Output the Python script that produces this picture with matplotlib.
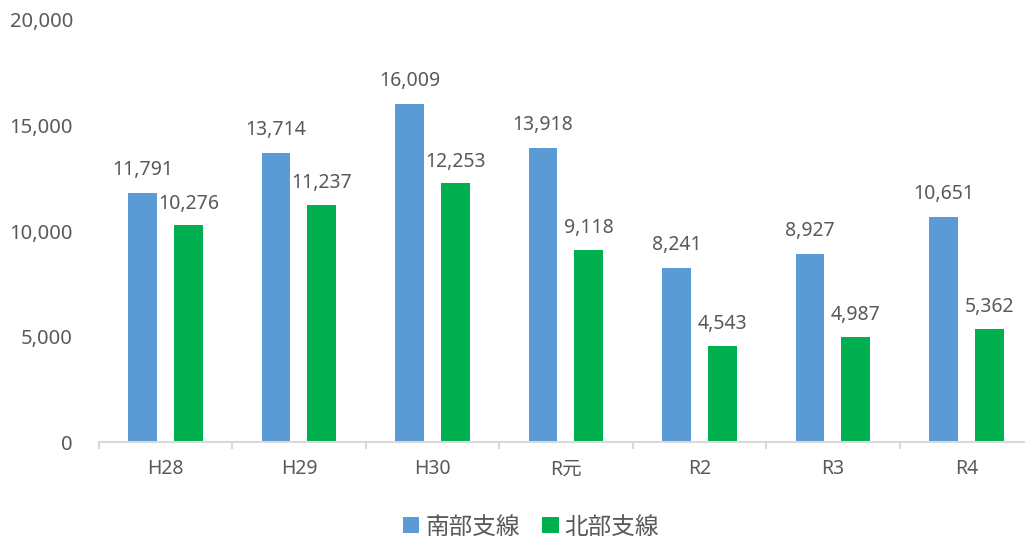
import matplotlib
matplotlib.use("Agg")
import matplotlib.pyplot as plt
import numpy as np

categories = ["H28", "H29", "H30", "R元", "R2", "R3", "R4"]
south = [11791, 13714, 16009, 13918, 8241, 8927, 10651]
north = [10276, 11237, 12253, 9118, 4543, 4987, 5362]
series_names = ["南部支線", "北部支線"]
yticks = [0, 5000, 10000, 15000, 20000]

FAM = ['Noto Sans', 'Noto Sans CJK JP', 'DejaVu Sans']
plt.rcParams['font.family'] = FAM
TXT = '#595959'
BLUE = '#5B9BD5'
GREEN = '#00B050'

fig = plt.figure(figsize=(10.25, 5.37), dpi=100)
ax = fig.add_axes([98.7/1025, 95/537, 934.5/1025, 422/537])

x = np.arange(len(categories))
w = 0.217
off = 0.172
b1 = ax.bar(x - off, south, w, color=BLUE, label=series_names[0], zorder=2)
b2 = ax.bar(x + off, north, w, color=GREEN, label=series_names[1], zorder=2)

for xi, v in zip(x - off, south):
    ax.annotate(f"{v:,}", (xi, v), xytext=(0, 13), textcoords='offset points',
                ha='center', va='baseline', fontsize=14, color=TXT)
for xi, v in zip(x + off, north):
    ax.annotate(f"{v:,}", (xi, v), xytext=(0, 12), textcoords='offset points',
                ha='center', va='baseline', fontsize=14, color=TXT)

ax.set_xlim(-0.5, len(categories) - 0.5)
ax.set_ylim(0, 20000)
ax.set_yticks(yticks)
ax.set_yticklabels([f"{t:,}" for t in yticks], fontsize=14.5, color=TXT)
ax.set_xticks(x)
ax.set_xticklabels(categories, fontsize=14, color=TXT)
ax.set_xticks(np.arange(-0.5, len(categories)), minor=True)
ax.tick_params(axis='x', which='major', length=0, pad=12.5)
ax.tick_params(axis='x', which='minor', length=5, width=1.5, color='#D9D9D9')
ax.tick_params(axis='y', length=0, pad=18.5)

for s in ['top', 'right', 'left']:
    ax.spines[s].set_visible(False)
ax.spines['bottom'].set_color('#D9D9D9')
ax.spines['bottom'].set_linewidth(1.5)

leg = fig.legend(handles=[b1, b2], labels=series_names, loc='center',
                 bbox_to_anchor=(531/1025, 1 - 527/537), ncol=2, frameon=False,
                 prop={'family': ['Noto Sans CJK JP', 'DejaVu Sans'], 'size': 17},
                 handlelength=0.68, handleheight=0.68, handletextpad=0.25,
                 columnspacing=0.97, borderpad=0, borderaxespad=0)
for t in leg.get_texts():
    t.set_color(TXT)

fig.savefig("out.png", dpi=100)
